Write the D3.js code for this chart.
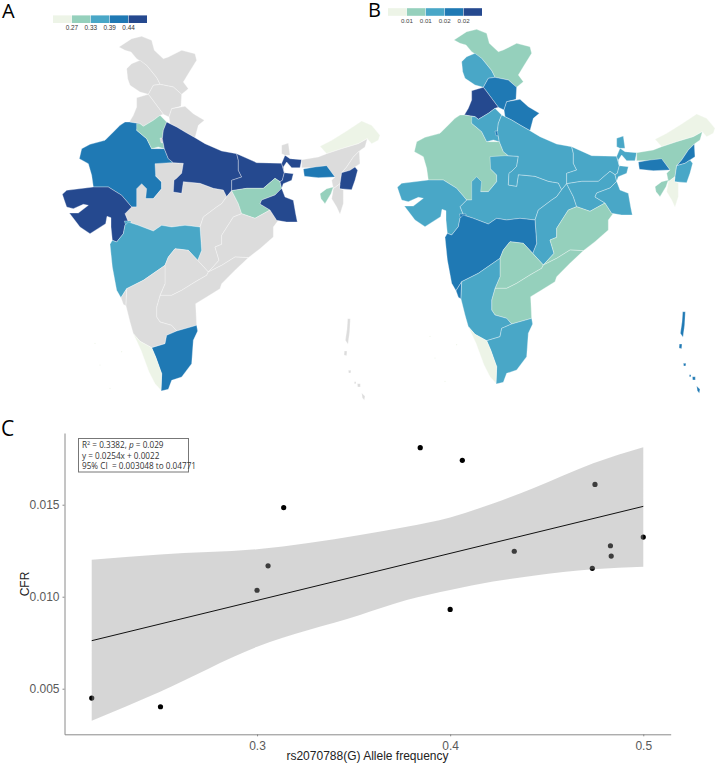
<!DOCTYPE html>
<html><head><meta charset="utf-8">
<script src="https://cdn.jsdelivr.net/npm/d3@7/dist/d3.min.js"></script>
<style>html,body{margin:0;padding:0;background:#fff}svg{display:block}</style>
</head><body><svg id="c" width="720" height="766"></svg>
<script>
// ---- map data: outlines on a shared map grid
const stateNames = ["Ladakh","Jammu and Kashmir","Himachal Pradesh","Punjab","Uttarakhand","Rajasthan","Madhya Pradesh","Haryana","Delhi","Gujarat","Dadra","Uttar Pradesh","Chhattisgarh","Bihar","Jharkhand","Odisha","West Bengal","Sikkim","Maharashtra","Goa","Telangana","Andhra Pradesh","Karnataka","Tamil Nadu","Kerala","Arunachal Pradesh","Assam","Meghalaya","Nagaland","Manipur","Mizoram","Tripura","Andaman N","Andaman M","Andaman S","Nicobar 1","Nicobar 2","Nicobar 3"];
const stateOutlines = [
[[282,120],[320,95],[350,88],[380,100],[388,130],[415,155],[430,150],[470,130],[510,140],[515,160],[490,200],[475,225],[490,245],[470,262],[445,240],[405,232],[395,212],[365,175],[335,155],[318,135],[300,130]],
[[305,185],[320,170],[345,160],[365,175],[395,212],[405,232],[385,235],[370,262],[345,255],[315,235],[308,215]],
[[370,262],[385,235],[405,232],[445,240],[470,262],[468,298],[440,305],[432,330],[415,322],[395,295],[378,272]],
[[335,272],[370,262],[378,272],[395,295],[415,322],[405,325],[385,340],[355,358],[345,350],[313,345],[325,325],[335,300]],
[[440,305],[480,298],[505,320],[538,340],[520,355],[510,392],[480,375],[455,360],[435,350],[432,330]],
[[300,345],[313,345],[345,350],[335,370],[365,395],[380,425],[418,425],[430,455],[445,467],[425,472],[392,507],[410,525],[410,545],[385,575],[360,575],[335,600],[320,600],[290,565],[250,540],[205,540],[200,505],[190,470],[163,455],[170,425],[195,412],[240,400],[265,375],[285,355]],
[[320,600],[335,600],[335,545],[350,530],[365,545],[362,575],[385,575],[410,545],[410,525],[392,507],[390,470],[435,467],[475,469],[470,499],[455,514],[447,520],[445,555],[470,559],[475,524],[525,529],[565,544],[595,549],[605,569],[590,590],[575,600],[535,630],[525,660],[480,655],[440,660],[410,655],[385,672],[340,655],[310,645],[300,620]],
[[335,350],[345,350],[355,358],[385,340],[405,325],[425,345],[415,370],[412,395],[418,425],[400,420],[380,425],[365,395],[335,370]],
[[405,393],[418,393],[418,407],[408,407]],
[[112,562],[125,550],[205,540],[250,540],[290,565],[320,600],[300,620],[310,645],[300,655],[295,680],[275,705],[262,700],[258,660],[258,632],[246,628],[242,650],[195,680],[165,660],[133,618],[160,618],[190,595],[175,592],[145,605],[125,600],[118,580]],
[[298,642],[318,642],[316,655],[302,655]],
[[425,345],[435,350],[455,360],[480,375],[510,392],[540,410],[590,432],[635,440],[640,460],[640,490],[650,510],[620,520],[620,551],[605,569],[595,549],[565,544],[525,529],[475,524],[470,559],[445,555],[447,520],[455,514],[470,499],[475,469],[445,467],[430,455],[418,425],[412,395],[415,370]],
[[605,569],[620,551],[640,590],[650,620],[625,630],[590,685],[590,712],[570,720],[582,760],[550,795],[518,760],[530,730],[525,660],[535,630],[575,600],[590,590]],
[[635,440],[695,467],[770,469],[778,497],[772,520],[765,524],[750,514],[715,544],[665,544],[620,551],[620,520],[650,510],[640,490],[640,460]],
[[620,551],[665,544],[715,544],[750,514],[765,524],[770,544],[750,564],[710,579],[705,591],[735,609],[690,634],[650,620],[640,590]],
[[625,630],[650,620],[690,634],[735,609],[755,640],[760,640],[745,660],[745,690],[705,725],[670,752],[630,750],[590,775],[550,795],[582,760],[570,720],[590,712],[590,685]],
[[770,469],[780,445],[795,455],[830,458],[825,482],[800,482],[785,465],[775,480],[778,497],[805,500],[800,520],[775,530],[770,544],[780,570],[805,580],[812,620],[817,645],[785,645],[755,640],[735,609],[705,591],[710,579],[750,564],[770,544],[765,524],[772,520],[778,497]],
[[770,415],[790,408],[795,445],[780,445],[770,440]],
[[255,712],[262,700],[275,705],[295,680],[300,655],[310,645],[340,655],[385,672],[410,655],[440,660],[480,655],[525,660],[530,730],[518,760],[490,730],[450,725],[430,750],[420,775],[355,820],[305,845],[288,872],[275,850],[262,780]],
[[288,872],[305,845],[303,897],[295,892]],
[[430,750],[450,725],[490,730],[518,760],[550,795],[545,805],[510,825],[470,850],[440,865],[405,865],[420,830],[420,775]],
[[550,795],[590,775],[630,750],[670,752],[630,790],[590,830],[585,845],[545,870],[512,890],[515,955],[455,972],[440,955],[405,945],[395,930],[395,900],[405,865],[440,865],[470,850],[510,825],[545,805]],
[[305,845],[355,820],[420,775],[420,830],[405,865],[395,900],[395,930],[405,945],[440,955],[455,972],[425,985],[420,1010],[380,1022],[345,1003],[325,980],[315,945],[303,897]],
[[455,972],[515,955],[518,972],[505,1000],[500,1070],[470,1110],[440,1120],[430,1147],[408,1152],[410,1100],[392,1050],[380,1022],[420,1010],[425,985]],
[[325,980],[345,1003],[380,1022],[392,1050],[410,1100],[408,1150],[390,1130],[372,1095],[348,1030]],
[[885,418],[920,400],[960,375],[1010,342],[1040,355],[1065,385],[1060,400],[1040,410],[1027,395],[1000,410],[950,425],[905,440]],
[[830,458],[880,450],[905,440],[950,425],[1000,410],[1027,395],[1020,420],[1003,432],[985,450],[965,480],[950,497],[945,530],[925,545],[920,520],[930,510],[905,478],[870,482],[830,482]],
[[835,486],[870,480],[905,476],[930,510],[880,512],[838,508]],
[[1003,432],[1005,470],[990,480],[975,490],[950,497],[965,480],[985,450]],
[[950,497],[975,490],[990,480],[998,490],[990,520],[980,548],[943,545],[945,530]],
[[925,545],[945,530],[943,545],[955,548],[955,590],[945,622],[935,600],[920,575]],
[[885,560],[905,545],[925,540],[918,560],[900,590],[888,575]],
[[968,935],[976,935],[974,975],[969,1012],[961,1000],[966,965]],
[[958,1032],[966,1032],[965,1046],[957,1044]],
[[970,1090],[978,1090],[977,1098],[971,1098]],
[[988,1124],[993,1124],[993,1130],[988,1130]],
[[997,1130],[1006,1130],[1006,1140],[998,1140]],
[[1010,1158],[1020,1168],[1018,1180],[1012,1172]]
];
const classesA = [-1,-1,-1,-1,-1,3,-1,1,-1,4,2,4,-1,4,1,-1,4,-1,2,-1,-1,-1,-1,3,0,0,-1,3,-1,4,-1,1,-1,-1,-1,-1,-1,-1];
const classesB = [1,2,3,4,3,1,2,2,3,2,3,2,2,2,2,1,2,2,3,3,1,1,2,2,0,0,1,3,3,2,0,1,3,3,3,3,3,3];
const islets = [[210,1009],[290,1034],[225,1074],[255,1144]];
const classColors = ["#edf4e7","#95d0bc","#49a7c7","#1f79b4","#25498f"];
const noData = "#dcdcdc";
const legendLabelsA = ["0.27","0.33","0.39","0.44"];
const legendLabelsB = ["0.01","0.01","0.02","0.02"];

// ---- scatter data
const alleleFreq = [0.2144,0.25,0.30,0.3057,0.3138,0.3845,0.4063,0.40,0.4332,0.475,0.4736,0.483,0.4834,0.50];
const cfr = [0.00449,0.00402,0.01035,0.01168,0.01484,0.0181,0.01741,0.00931,0.01247,0.0161,0.01154,0.01277,0.01221,0.01324];
const bandX = [0.2144,0.2498,0.30,0.3533,0.3775,0.40,0.4222,0.443,0.4741,0.50];
const bandUpper = [0.01201,0.0123,0.01258,0.01335,0.0138,0.01431,0.01507,0.01589,0.01725,0.01812];
const bandLower = [0.00326,0.00484,0.00728,0.00901,0.00982,0.01036,0.01082,0.01114,0.01149,0.01163];
const fitX = [0.2144,0.50];
const fitY = [0.00761,0.01491];
const xTicks = [0.3,0.4,0.5];
const yTicks = [0.005,0.010,0.015];

const svg = d3.select("#c");
const sans = "'Liberation Sans',Arial,sans-serif";
const open = "'Open Sans',sans-serif";

// ---- panels
function drawMap(xr, yr, classes){
  const mx = d3.scaleLinear().domain([0,1080]).range(xr);
  const my = d3.scaleLinear().domain([0,1260]).range(yr);
  const fill = c => c < 0 ? noData : classColors[c];
  const line = d3.line().x(d=>mx(d[0])).y(d=>my(d[1])).curve(d3.curveLinearClosed);
  const g = svg.append("g");
  g.selectAll("path").data(stateNames).join("path")
    .attr("d",(d,i)=>line(stateOutlines[i]))
    .attr("fill",(d,i)=>fill(classes[i]))
    .attr("stroke","#ffffff").attr("stroke-opacity",0.55).attr("stroke-width",0.6).attr("stroke-linejoin","round");
  g.selectAll("circle").data(islets).join("circle")
    .attr("cx",d=>mx(d[0])).attr("cy",d=>my(d[1])).attr("r",0.6).attr("fill","#edf4e7");
}
drawMap([25,385],[7,427],classesA);
drawMap([360,720],[0,420],classesB);

function drawLegend(x0,y0,labels,col){
  const band = d3.scaleBand().domain(d3.range(classColors.length)).range([x0,x0+94.5]);
  const g = svg.append("g");
  g.selectAll("rect").data(classColors).join("rect")
    .attr("x",(d,i)=>band(i)).attr("y",y0).attr("width",band.bandwidth()-0.5).attr("height",7.6).attr("fill",d=>d);
  g.selectAll("text").data(labels).join("text")
    .attr("x",(d,i)=>band(i)+band.bandwidth()).attr("y",y0+14.5).attr("text-anchor","middle")
    .attr("font-family",sans).attr("font-size",col==="#444"?6.2:6.4).attr("fill",col).text(d=>d);
}
drawLegend(53,15.4,legendLabelsA,"#333");
drawLegend(388,8.2,legendLabelsB,"#444");

[["A",2,18],["B",368,17],["C",1,436]].forEach(l=>{
  svg.append("text").attr("x",l[1]).attr("y",l[2]).attr("font-family",open)
    .attr("font-size",l[0]==="C"?21:20).attr("fill","#000").text(l[0]);
});

// ---- scatter
const x = d3.scaleLinear().domain([0.2003,0.5142]).range([64.5,670.7]);
const y = d3.scaleLinear().domain([0.002522,0.018897]).range([734.3,433]);

const gx = svg.append("g").attr("transform","translate(0,734.3)")
  .call(d3.axisBottom(x).tickValues(xTicks).tickFormat(d3.format(".1f")).tickSize(2).tickSizeOuter(0));
const gy = svg.append("g").attr("transform","translate(64.5,0)")
  .call(d3.axisLeft(y).tickValues(yTicks).tickFormat(d3.format(".3f")).tickSize(2).tickSizeOuter(0));
[gx,gy].forEach(g=>{
  g.select(".domain").attr("stroke","#8a8a8a").attr("stroke-width",1);
  g.selectAll(".tick line").attr("stroke","#8a8a8a");
  g.selectAll("text").attr("font-family",sans).attr("font-size",12).attr("fill","#5a5a5a");
});
gx.selectAll("text").attr("dy","0.9em");

svg.append("g").selectAll("circle").data(alleleFreq).join("circle")
  .attr("cx",d=>x(d)).attr("cy",(d,i)=>y(cfr[i])).attr("r",2.6).attr("fill","#000");

const area = d3.area().x((d,i)=>x(bandX[i])).y0((d,i)=>y(bandLower[i])).y1((d,i)=>y(bandUpper[i])).curve(d3.curveMonotoneX);
svg.append("path").attr("d",area(bandX)).attr("fill","#999999").attr("fill-opacity",0.4);

svg.append("path").attr("d",d3.line().x((d,i)=>x(fitX[i])).y((d,i)=>y(fitY[i]))(fitX))
  .attr("fill","none").attr("stroke","#111").attr("stroke-width",1);

svg.append("text").attr("x",367.5).attr("y",760).attr("text-anchor","middle")
  .attr("font-family",sans).attr("font-size",12).attr("fill","#222").text("rs2070788(G) Allele frequency");
svg.append("text").attr("transform","translate(29,584) rotate(-90)").attr("text-anchor","middle")
  .attr("font-family",sans).attr("font-size",12).attr("fill","#222").text("CFR");

// ---- annotation box
svg.append("rect").attr("x",78.5).attr("y",438.5).attr("width",110).attr("height",33.5)
  .attr("fill","#fff").attr("stroke","#777").attr("stroke-width",1);
const note = svg.append("g").attr("font-family",open).attr("font-size",8.2).attr("fill","#333");
const t1 = note.append("text").attr("x",82).attr("y",448);
t1.append("tspan").text("R");
t1.append("tspan").attr("font-size",5.5).attr("dy",-3).text("2");
t1.append("tspan").attr("dy",3).text(" = 0.3382, ");
t1.append("tspan").attr("font-style","italic").text("p");
t1.append("tspan").text(" = 0.029");
note.append("text").attr("x",82).attr("y",458.5).text("y = 0.0254x + 0.0022");
note.append("text").attr("x",82).attr("y",469).attr("xml:space","preserve").text("95% CI  = 0.003048 to 0.04771");
</script></body></html>
